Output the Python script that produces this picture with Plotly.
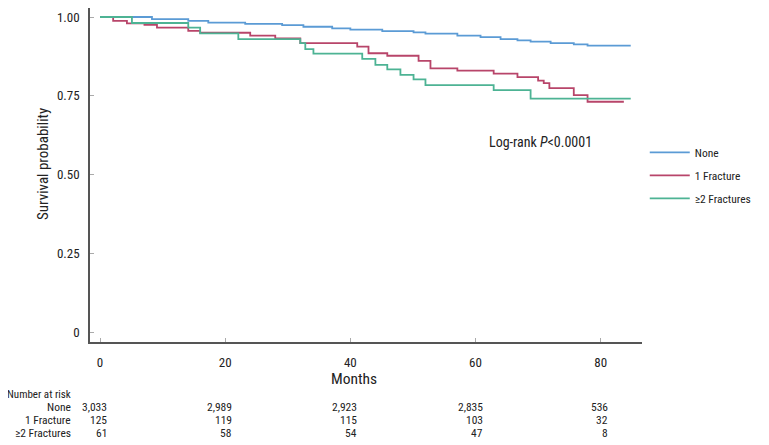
import plotly.graph_objects as go

# ---- data ----
none_t = [0, 8.3, 14.1, 17.3, 23.2, 29.1, 32.5, 37.1, 40.0, 45.1, 50.1, 52.0, 57.1,
          60.8, 64.0, 66.7, 68.8, 72.0, 75.7, 77.9, 84.8]
none_s = [1.0, 0.993, 0.988, 0.982, 0.978, 0.974, 0.969, 0.964, 0.960, 0.955, 0.951,
          0.947, 0.941, 0.936, 0.930, 0.926, 0.922, 0.917, 0.913, 0.909, 0.909]

one_t = [0, 2.1, 4.3, 7.1, 9.1, 14.1, 16.0, 24.0, 28.0, 32.0, 41.1, 42.9, 45.9, 50.9,
         52.8, 57.1, 62.9, 66.7, 70.0, 70.9, 71.8, 75.7, 77.9, 83.7]
one_s = [1.0, 0.988, 0.980, 0.975, 0.966, 0.956, 0.950, 0.941, 0.932, 0.917, 0.906,
         0.885, 0.877, 0.861, 0.837, 0.830, 0.820, 0.809, 0.798, 0.790, 0.774, 0.752,
         0.731, 0.731]

two_t = [0, 5.1, 14.1, 16.0, 22.1, 32.0, 32.8, 34.1, 41.9, 44.0, 45.9, 48.0, 50.1,
         52.0, 62.9, 68.8, 84.8]
two_s = [1.0, 0.981, 0.966, 0.948, 0.930, 0.917, 0.898, 0.884, 0.867, 0.848, 0.834,
         0.816, 0.802, 0.784, 0.768, 0.741, 0.741]

series_names = ["None", "1 Fracture", "\u22652 Fractures"]
series_colors = ["#5b9bd5", "#b8456a", "#4db394"]

risk_times = [0, 20, 40, 60, 80]
risk_none = [3033, 2989, 2923, 2835, 536]
risk_one = [125, 119, 115, 103, 32]
risk_two = [61, 58, 54, 47, 8]

y_tickvals = [0, 0.25, 0.5, 0.75, 1.0]
y_ticktext = ["0", "0.25", "0.50", "0.75", "1.00"]
x_tickvals = [0, 20, 40, 60, 80]

FONT = "Roboto Condensed, Archivo Narrow, Barlow Condensed, sans-serif"
TXT = "#222222"

fig = go.Figure()
for name, t, s, c in zip(series_names, [none_t, one_t, two_t],
                         [none_s, one_s, two_s], series_colors):
    fig.add_trace(go.Scatter(x=t, y=s, mode="lines", name=name, legendgroup=name,
                             line=dict(color=c, width=1.8, shape="hv")))

annotations = []
annotations.append(dict(x=-0.0851, y=0.533, xref="paper", yref="paper",
                        xanchor="center", yanchor="middle", textangle=-90,
                        showarrow=False, text="Survival probability",
                        font=dict(family=FONT, size=15, color=TXT)))
annotations.append(dict(x=61.9, y=0.604, xref="x", yref="y", xanchor="left",
                        yanchor="middle", showarrow=False,
                        text="Log-rank <i>P</i><0.0001",
                        font=dict(family=FONT, size=14, color=TXT)))
annotations.append(dict(x=40.6, y=-0.111, xref="x", yref="paper", xanchor="center",
                        yanchor="middle", showarrow=False, text="Months",
                        font=dict(family=FONT, size=15.5, color=TXT)))
annotations.append(dict(x=-0.154, y=-0.158, xref="paper", yref="paper",
                        xanchor="left", yanchor="middle", showarrow=False,
                        text="Number at risk",
                        font=dict(family=FONT, size=11, color=TXT)))
row_y = [-0.195, -0.233, -0.271]
for label, vals, ry in zip(series_names, [risk_none, risk_one, risk_two], row_y):
    annotations.append(dict(x=-0.0308, y=ry, xref="paper", yref="paper",
                            xanchor="right", yanchor="middle", showarrow=False,
                            text=label, font=dict(family=FONT, size=11.5, color=TXT)))
    for t, v in zip(risk_times, vals):
        annotations.append(dict(x=t, y=ry, xref="x", yref="paper", xanchor="right",
                                yanchor="middle", showarrow=False, xshift=9,
                                text=f"{v:,}",
                                font=dict(family=FONT, size=11.5, color=TXT)))

# page body has an 8px margin, so the figure is sized to the visible area
fig.update_layout(
    width=761, height=437,
    margin=dict(l=82, r=127, t=0, b=103, autoexpand=False),
    paper_bgcolor="white", plot_bgcolor="white",
    font=dict(family=FONT, size=13, color=TXT),
    showlegend=True,
    legend=dict(x=1.005, y=0.611, xanchor="left", yanchor="top",
                font=dict(family=FONT, size=11.5, color=TXT),
                tracegroupgap=4, itemwidth=40, bgcolor="rgba(0,0,0,0)"),
    annotations=annotations,
    xaxis=dict(range=[-1.6, 86.6], tickvals=x_tickvals, ticks="inside", ticklen=4,
               tickcolor="#aaaaaa", showline=True, linecolor="#555555", linewidth=1.5,
               showgrid=False, zeroline=False, ticklabelstandoff=8,
               tickfont=dict(family=FONT, size=13, color=TXT)),
    yaxis=dict(range=[-0.0317, 1.0286], tickvals=y_tickvals, ticktext=y_ticktext,
               ticks="inside", ticklen=4, tickcolor="#aaaaaa", showline=True,
               linecolor="#555555", linewidth=1.5, showgrid=False, zeroline=False,
               ticklabelstandoff=6,
               tickfont=dict(family=FONT, size=13, color=TXT)),
)

fig.write_html("out.html")
